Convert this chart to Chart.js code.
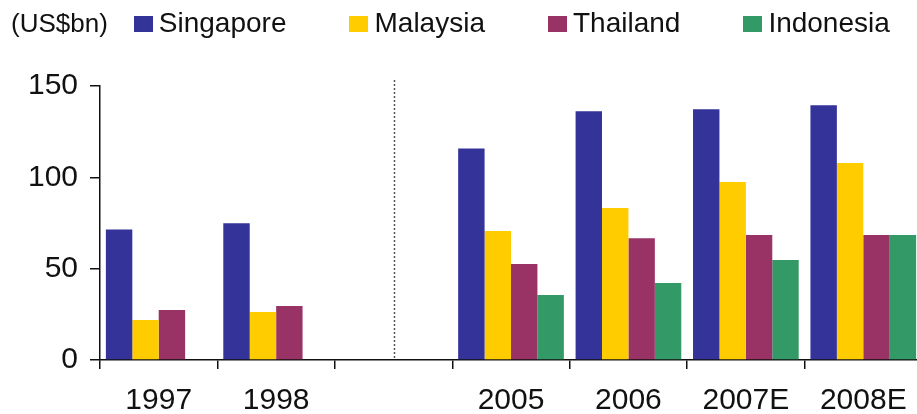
<!DOCTYPE html>
<html>
<head>
<meta charset="utf-8">
<script src="https://cdn.jsdelivr.net/npm/chart.js@4.4.1/dist/chart.umd.min.js"></script>
<style>
  html, body { margin: 0; padding: 0; background: #fff; }
  #wrap { position: relative; width: 917px; height: 414px; overflow: hidden; }
  #chart { position: absolute; left: 0; top: 0; }
  #legend {
    position: absolute; left: 11px; top: 9px;
    display: flex; align-items: flex-start;
    font-family: "Liberation Sans", Arial, sans-serif; color: #111;
  }
  #legend .unit { font-size: 26px; line-height: 28px; margin-right: 26px; }
  #legend .item { display: flex; align-items: flex-start; margin-right: 63px; }
  #legend .box { width: 19px; height: 16px; margin-top: 7px; margin-right: 6px; }
  #legend .text { font-size: 28px; line-height: 28px; }
</style>
</head>
<body>
<div id="wrap">
  <canvas id="chart" width="930" height="414"></canvas>
  <div id="legend"><span class="unit">(US$bn)</span></div>
</div>
<script>
const years = ['1997', '1998', '', '2005', '2006', '2007E', '2008E'];
const singapore = [71.5, 74.8, null, 115.8, 136.2, 137.3, 139.5];
const malaysia = [21.9, 26.3, null, 70.6, 83.2, 97.4, 107.8];
const thailand = [27.4, 29.5, null, 52.5, 66.7, 68.4, 68.4];
const indonesia = [null, null, null, 35.6, 42.1, 54.7, 68.4];
const yTicks = [0, 50, 100, 150];

const series = [
  { label: 'Singapore', data: singapore, color: '#333399' },
  { label: 'Malaysia', data: malaysia, color: '#ffcc00' },
  { label: 'Thailand', data: thailand, color: '#993366' },
  { label: 'Indonesia', data: indonesia, color: '#339966' },
];

// dotted separator through the empty slot between the two periods
const separator = {
  id: 'separator',
  afterDatasetsDraw(chart) {
    const { ctx, chartArea, scales } = chart;
    const x = Math.round(scales.x.getPixelForValue(2)) + 0.5;
    ctx.save();
    ctx.strokeStyle = '#555';
    ctx.lineWidth = 1.5;
    ctx.setLineDash([2, 2]);
    ctx.beginPath();
    ctx.moveTo(x, chartArea.top - 6);
    ctx.lineTo(x, chartArea.bottom);
    ctx.stroke();
    ctx.restore();
  },
};

const axisGrid = (len) => ({
  display: true,
  drawOnChartArea: false,
  drawTicks: true,
  tickLength: len,
  color: '#111',
  lineWidth: 1.5,
});

const chart = new Chart(document.getElementById('chart'), {
  type: 'bar',
  data: {
    labels: years,
    datasets: series.map((s) => ({
      label: s.label,
      data: s.data,
      backgroundColor: s.color,
      borderWidth: 0,
      categoryPercentage: 0.9,
      barPercentage: 1.0,
    })),
  },
  options: {
    responsive: false,
    animation: false,
    devicePixelRatio: 1,
    layout: { padding: { top: 86, right: 8, left: 0, bottom: 0 } },
    plugins: { legend: { display: false }, tooltip: { enabled: false } },
    scales: {
      x: {
        offset: true,
        grid: { ...axisGrid(9), offset: true },
        border: { display: true, color: '#111', width: 1.5 },
        ticks: {
          color: '#111',
          padding: 14,
          maxRotation: 0,
          autoSkip: false,
          font: { family: 'Liberation Sans', size: 30 },
        },
        afterFit(scale) { scale.height = 54; },
      },
      y: {
        min: 0,
        max: 150,
        afterBuildTicks(scale) { scale.ticks = yTicks.map((v) => ({ value: v })); },
        grid: axisGrid(10),
        border: { display: true, color: '#111', width: 1.5 },
        ticks: {
          color: '#111',
          padding: 12,
          font: { family: 'Liberation Sans', size: 30 },
        },
        afterFit(scale) { scale.width = 100; },
      },
    },
  },
  plugins: [separator],
});

// legend row built from the datasets
const legend = document.getElementById('legend');
chart.data.datasets.forEach((ds) => {
  const item = document.createElement('span');
  item.className = 'item';
  item.innerHTML = `<span class="box" style="background:${ds.backgroundColor}"></span><span class="text">${ds.label}</span>`;
  legend.appendChild(item);
});
</script>
</body>
</html>
